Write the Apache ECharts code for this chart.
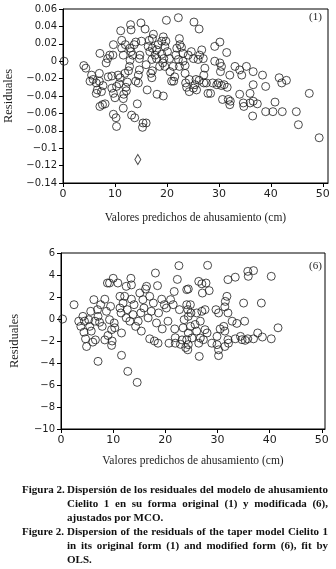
<!DOCTYPE html>
<html>
<head>
<meta charset="utf-8">
<script src="https://cdn.jsdelivr.net/npm/echarts@6/dist/echarts.min.js"></script>
<style>
html, body { margin: 0; padding: 0; background: #fff; }
#chart { width: 336px; height: 569px; }
</style>
</head>
<body>
<div id="chart"></div>
<script>
var xTicks = [0, 10, 20, 30, 40, 50];

// modelo (1): residuales vs valores predichos
var residuals1 = [
  [0.2,0.0],[4.0,-0.005],[4.4,-0.008],[5.5,-0.016],[5.2,-0.023],[5.8,-0.021],[6.4,-0.025],[7.0,-0.014],
  [7.1,0.009],[7.0,-0.023],[6.4,-0.037],[6.6,-0.033],[7.4,-0.035],[7.7,-0.028],[8.1,-0.049],[7.6,-0.050],
  [7.1,-0.052],[8.3,-0.002],[8.6,0.003],[8.7,-0.018],[9.4,-0.017],[9.0,0.007],[9.6,0.007],[9.7,0.019],
  [9.4,-0.031],[9.7,-0.037],[10.0,-0.042],[9.7,-0.061],[10.2,-0.065],[10.3,-0.075],[10.3,-0.029],[10.6,-0.016],
  [10.8,-0.026],[11.0,-0.019],[11.1,0.035],[11.3,0.024],[11.3,0.015],[11.6,0.007],[11.7,-0.038],[11.6,-0.043],
  [11.6,-0.054],[12.0,0.019],[11.9,-0.014],[12.1,-0.030],[12.2,-0.034],[12.4,-0.024],[12.6,-0.011],[12.8,-0.006],
  [12.9,0.001],[12.9,0.015],[13.0,0.042],[13.1,0.036],[13.1,0.011],[13.2,-0.062],[13.4,0.007],[13.7,0.019],
  [14.0,0.022],[13.8,-0.065],[14.0,-0.023],[14.3,-0.049],[14.5,-0.025],[14.5,-0.016],[14.7,-0.010],[14.8,0.007],
  [14.7,0.003],[15.0,0.044],[15.1,0.023],[15.3,-0.076],[15.4,-0.071],[15.8,0.037],[16.0,-0.071],[16.2,-0.033],
  [16.0,-0.004],[16.4,0.017],[16.6,0.024],[16.7,0.011],[16.9,-0.014],[17.1,-0.019],[17.2,-0.011],[17.1,0.002],
  [17.2,0.026],[17.4,0.031],
  [17.2,0.015],[18.1,-0.038],[19.3,-0.040],[19.9,0.047],[22.2,0.050],[25.2,0.045],[26.2,0.037],[19.3,0.028],
  [19.8,0.023],[19.0,0.023],[19.6,0.017],[20.1,0.011],[19.0,0.008],[19.4,0.003],[19.2,-0.002],[19.6,-0.006],
  [18.6,-0.006],[18.0,0.003],[17.7,0.007],[18.0,0.013],[18.3,0.019],[20.5,0.003],[20.6,-0.012],[20.9,-0.023],
  [21.3,-0.023],[21.2,-0.006],[21.5,-0.018],[21.9,0.015],[21.7,0.007],[22.4,0.026],[22.5,0.019],[22.2,0.002],
  [22.4,-0.006],[22.8,0.016],[23.1,0.009],[23.1,0.0],[23.5,-0.005],[23.5,-0.014],[23.6,-0.025],[23.8,-0.030],
  [24.3,-0.035],[24.3,-0.021],[24.1,0.007],[24.7,0.011],[25.1,0.003],[25.4,-0.027],[25.6,-0.021],[25.7,-0.033],
  [25.1,-0.031],[26.2,-0.022],[26.0,0.002],[26.3,0.007],[26.7,0.013],[27.0,0.003],[27.3,-0.008],[27.1,-0.016],
  [27.1,-0.025],[27.6,-0.025],[27.9,-0.037],[28.4,-0.037],[28.8,-0.025],[29.2,0.017],[30.2,0.022],[29.2,0.0],
  [30.2,-0.002],[30.5,-0.006],[30.3,-0.012],[29.9,-0.025],[29.6,-0.027],[30.5,-0.028],[31.0,-0.027],[31.5,0.010],
  [31.6,-0.030],[32.1,-0.016],[30.7,-0.044],[31.8,-0.044],[32.2,-0.046],[32.1,-0.050],[33.1,-0.006],[34.0,-0.010],
  [34.4,-0.016],[34.0,-0.038],[34.7,-0.048],
  [35.3,-0.006],[36.6,-0.012],[36.0,-0.037],[36.6,-0.027],[34.8,-0.052],[36.0,-0.048],[36.6,-0.046],[37.4,-0.049],
  [36.5,-0.063],[38.4,-0.016],[39.0,-0.029],[39.0,-0.058],[40.4,-0.058],[40.8,-0.047],[41.6,-0.019],[42.1,-0.025],
  [43.0,-0.022],[42.2,-0.058],[44.9,-0.058],[45.3,-0.073],[47.4,-0.037],[49.3,-0.088]
];
var outlier1 = [[14.4, -0.113]];

// modelo (6)
var residuals6 = [
  [0.3,0.0],[2.5,1.3],[3.4,-0.2],[3.8,-0.67],[4.2,0.24],[4.5,-0.2],[4.4,-1.2],[4.7,-1.8],
  [4.9,-2.5],[5.3,-0.06],[5.5,-0.67],[5.7,0.7],[5.8,-1.1],[6.1,-2.1],[6.3,1.76],[6.5,-0.2],
  [6.6,-1.9],[7.0,0.85],[7.1,-3.85],[7.1,0.24],[7.4,-0.3],[7.6,1.3],[7.9,-0.67],[8.4,1.8],
  [8.4,-1.9],[8.7,0.7],[8.9,3.27],[9.0,-1.5],[9.3,-0.06],[9.3,3.27],[9.5,1.15],[9.7,-0.97],
  [9.7,-2.4],[9.8,-2.0],[10.0,3.7],[10.2,-0.36],[10.3,-0.8],[10.9,3.27],[11.3,2.06],[11.3,1.0],
  [11.5,0.55],[11.6,-1.27],[11.6,-3.3],[11.9,1.45],[12.2,2.06],[12.5,2.97],[12.5,0.1],[12.7,0.85],
  [12.8,-4.76],[13.2,-0.2],[13.4,3.7],[13.5,1.8],[13.5,3.1],[13.8,0.4],[14.0,1.3],[14.3,-0.67],
  [14.6,-5.76],[14.8,-0.2],[15.1,2.36],[15.3,0.55],[15.4,-1.1],[15.7,1.76],[15.9,1.0],[16.2,2.73],
  [16.4,2.97],[16.7,0.1],[17.0,2.06],[17.0,-1.8],[17.3,0.7],[17.7,1.45],[17.9,-2.0],[18.1,4.18],
  [18.3,-0.36],[18.5,3.03],[18.6,-2.2],[18.7,0.55],[19.3,1.8],[19.4,-0.9],[19.8,1.3],[20.2,1.0],
  [20.5,-0.2],[20.7,-2.2],[21.0,1.76],[21.5,1.3],[21.7,2.5],[21.8,-0.9],[21.9,-1.7],[21.9,-2.2],
  [22.3,3.6],[22.6,4.85],[22.7,0.85],[22.9,-2.3],[23.2,-1.9],[23.4,-0.8],[23.6,-0.06],[23.9,-2.6],
  [24.1,2.67],
  [28.1,4.88],[26.4,3.42],[27.0,3.2],[27.8,3.27],[27.1,2.36],[28.4,2.58],[24.4,2.73],[24.1,1.3],
  [24.8,1.3],[24.3,0.85],[24.9,0.55],[24.4,0.24],[26.0,0.55],[27.0,0.7],[27.6,0.85],[26.7,-0.2],
  [25.7,-0.5],[24.8,-0.67],[24.4,-1.27],[25.1,-1.73],[24.1,-1.88],[24.4,-2.33],[24.3,-2.8],[26.0,-1.1],
  [26.7,-1.73],[26.4,-2.2],[27.3,-1.88],[26.5,-3.4],[27.6,-0.97],[28.0,-1.27],[28.9,-2.2],[29.9,-2.33],
  [29.9,-1.58],[29.7,0.85],[30.2,0.55],[30.2,-2.8],[30.5,-0.9],[30.2,-3.33],[31.2,-0.67],[31.4,-1.1],
  [31.4,-2.5],[31.5,1.6],[31.4,1.1],[31.8,2.06],[32.0,0.55],[32.0,-1.88],[32.0,3.58],[32.1,-2.2],
  [32.8,-0.2],[33.4,3.8],[33.7,-0.4],[33.4,-1.8],[34.4,-1.58],[34.7,-1.88],[35.0,1.45],[35.2,-0.2],
  [35.3,-1.94],[35.8,4.33],[36.9,4.4],[35.9,3.88],[35.8,-1.8],[36.9,-1.8],[37.7,-1.27],[38.4,1.45],
  [38.6,-1.64],[40.3,3.88],[40.3,-1.8],[41.6,-0.8]
];

var captionLines = [
  { lead: 'Figura 2.', text: 'Dispersión de los residuales del modelo de ahusamiento', justify: true },
  { lead: '', text: 'Cielito 1 en su forma original (1) y modificada (6),', justify: true },
  { lead: '', text: 'ajustados por MCO.', justify: false },
  { lead: 'Figure 2.', text: 'Dispersion of the residuals of the taper model Cielito 1', justify: true },
  { lead: '', text: 'in its original form (1) and modified form (6), fit by', justify: true },
  { lead: '', text: 'OLS.', justify: false }
];

var ink = '#1e1e1e';
var tickFont = 'DejaVu Sans';
var serif = 'Liberation Serif';

function fmtY(v) {
  var s = String(Math.round(v * 100) / 100);
  return s.replace('-', '\u2212');
}

function xAxisFor(i, max, gap) {
  return {
    gridIndex: i, type: 'value', min: 0, max: max, interval: 10,
    name: 'Valores predichos de ahusamiento (cm)',
    nameLocation: 'middle', nameGap: gap,
    nameTextStyle: { fontFamily: serif, fontSize: 11.5, color: ink },
    axisLine: { show: true, onZero: false, lineStyle: { color: '#000', width: 1 } },
    axisTick: { show: true, length: 4, customValues: xTicks, lineStyle: { color: '#000' } },
    axisLabel: { customValues: xTicks, fontFamily: tickFont, fontSize: 11, color: ink, margin: 6 },
    splitLine: { show: false }
  };
}

function yAxisFor(i, min, max, interval) {
  return {
    gridIndex: i, type: 'value', min: min, max: max, interval: interval,
    name: 'Residuales', nameLocation: 'middle', nameGap: 40, nameRotate: 90,
    nameTextStyle: { fontFamily: serif, fontSize: 12.5, color: ink },
    axisLine: { show: true, onZero: false, lineStyle: { color: '#000', width: 1 } },
    axisTick: { show: true, length: 4, lineStyle: { color: '#000' } },
    axisLabel: { formatter: fmtY, fontFamily: tickFont, fontSize: 10, color: ink, margin: 6 },
    splitLine: { show: false }
  };
}

var circleStyle = { color: 'rgba(255,255,255,0)', borderColor: ink, borderWidth: 1 };

// caption, justified by measuring words
var ctx = document.createElement('canvas').getContext('2d');
var capFont = 'bold 11px "Liberation Serif"';
ctx.font = capFont;
var capLeft = 22, capIndent = 67, capRight = 328, capTop = 490, capStep = 14;
var graphics = [
  { type: 'text', left: 309, top: 12, style: { text: '(1)', font: '11px "Liberation Serif"', fill: ink } },
  { type: 'text', left: 309, top: 261, style: { text: '(6)', font: '11px "Liberation Serif"', fill: ink } }
];
captionLines.forEach(function (ln, k) {
  var y = capTop + k * capStep;
  if (ln.lead) {
    graphics.push({ type: 'text', x: capLeft, y: y, style: { text: ln.lead, font: capFont, fill: '#111', textVerticalAlign: 'middle' } });
  }
  var words = ln.text.split(' ');
  var widths = words.map(function (w) { return ctx.measureText(w).width; });
  var total = widths.reduce(function (a, b) { return a + b; }, 0);
  var gap = ln.justify ? (capRight - capIndent - total) / (words.length - 1) : ctx.measureText(' ').width;
  var x = capIndent;
  words.forEach(function (w, j) {
    graphics.push({ type: 'text', x: x, y: y, style: { text: w, font: capFont, fill: '#111', textVerticalAlign: 'middle' } });
    x += widths[j] + gap;
  });
});

var option = {
  animation: false,
  backgroundColor: '#fff',
  grid: [
    { left: 63, top: 9, width: 265, height: 174, show: true, borderColor: '#000', borderWidth: 1, outerBoundsMode: 'none' },
    { left: 61, top: 253, width: 264, height: 176, show: true, borderColor: '#000', borderWidth: 1, outerBoundsMode: 'none' }
  ],
  xAxis: [xAxisFor(0, 51, 29), xAxisFor(1, 50.6, 26)],
  yAxis: [yAxisFor(0, -0.14, 0.06, 0.02), yAxisFor(1, -10, 6, 2)],
  graphic: graphics,
  series: [
    { type: 'scatter', xAxisIndex: 0, yAxisIndex: 0, data: residuals1, symbol: 'circle', symbolSize: 8, itemStyle: circleStyle },
    { type: 'scatter', xAxisIndex: 0, yAxisIndex: 0, data: outlier1, symbol: 'diamond', symbolSize: [6, 10], itemStyle: circleStyle },
    { type: 'scatter', xAxisIndex: 1, yAxisIndex: 1, data: residuals6, symbol: 'circle', symbolSize: 8, itemStyle: circleStyle }
  ]
};

echarts.init(document.getElementById('chart')).setOption(option);
</script>
</body>
</html>
